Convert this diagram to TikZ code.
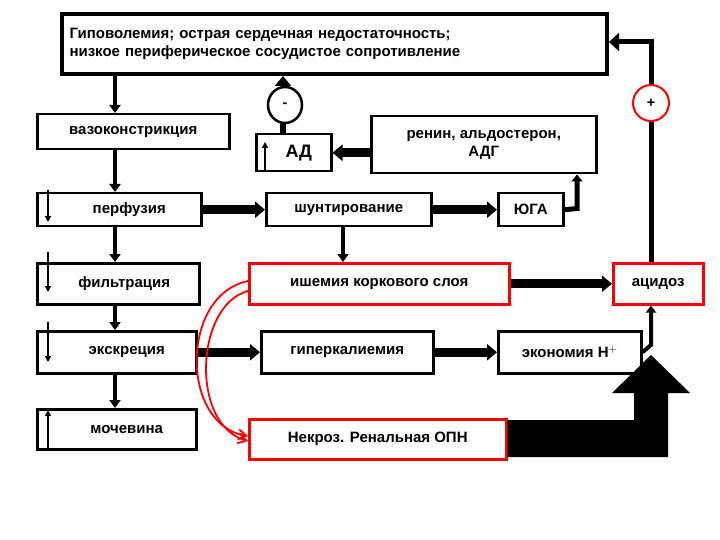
\documentclass[tikz,border=0pt]{standalone}
\usepackage{fontspec}
\setmainfont{Liberation Sans}
\usetikzlibrary{arrows.meta,shapes.geometric}
\begin{document}
\begin{tikzpicture}[x=1pt,y=-1pt,
 bx/.style={draw,line width=2.5pt,fill=white,inner sep=0pt,font=\bfseries\fontsize{15}{18}\selectfont},
 rbx/.style={bx,draw=red},
 va/.style={line width=4pt,-{Triangle[length=8pt,width=11pt]}},
 ha/.style={line width=9pt,-{Triangle[length=10pt,width=16pt]}},
 sa/.style={line width=1.8pt,-{Triangle[length=6pt,width=6pt]}},
 ra/.style={draw=red,line width=1.8pt,-{Straight Barb[length=8pt,width=10pt,open]}}]
\useasboundingbox (0,0) rectangle (720,540);
\node[bx,line width=4pt,minimum width=545pt,minimum height=60pt,align=left,text width=530pt,anchor=north west] (top) at (60,12)
 {Гиповолемия; острая сердечная недостаточность;\\низкое периферическое сосудистое сопротивление};
\node[bx,minimum width=192pt,minimum height=35pt,anchor=north west] (vaz) at (36,113) {вазоконстрикция};
\node[bx,minimum width=75pt,minimum height=37pt,anchor=north west] (ad) at (255,133) {\hspace{10pt}\fontsize{18}{20}\selectfont АД};
\node[bx,minimum width=225pt,minimum height=57pt,align=center,anchor=north west] (ren) at (370,115) {ренин, альдостерон,\\АДГ};
\node[draw,line width=2.5pt,fill=white,ellipse,minimum width=34pt,minimum height=36pt,inner sep=0pt,font=\bfseries\Large] (min) at (285,105) {-};
\node[draw=red,line width=2pt,fill=white,circle,minimum size=36pt,inner sep=0pt,font=\bfseries\Large] (pl) at (651,103) {+};
\node[bx,minimum width=164pt,minimum height=33pt,anchor=north west] (per) at (36,192) {\hspace{20pt}перфузия};
\node[bx,minimum width=165pt,minimum height=33pt,anchor=north west] (shu) at (265,192) {шунтирование};
\node[bx,minimum width=65pt,minimum height=33pt,anchor=north west] (yug) at (497,192) {ЮГА};
\node[bx,minimum width=162pt,minimum height=41pt,anchor=north west] (fil) at (36,262) {\hspace{12pt}фильтрация};
\node[rbx,minimum width=260pt,minimum height=41pt,anchor=north west] (isc) at (248,262) {ишемия коркового слоя};
\node[rbx,minimum width=90pt,minimum height=41pt,anchor=north west] (aci) at (612,262) {ацидоз};
\node[bx,minimum width=159pt,minimum height=42pt,anchor=north west] (exc) at (36,330) {\hspace{20pt}экскреция};
\node[bx,minimum width=172pt,minimum height=42pt,anchor=north west] (hyp) at (260,330) {гиперкалиемия};
\node[bx,minimum width=143pt,minimum height=42pt,anchor=north west] (eco) at (497,330) {экономия H$^{\mathbf{+}}$};
\node[bx,minimum width=159pt,minimum height=40pt,anchor=north west] (moc) at (36,408) {\hspace{20pt}мочевина};
\node[rbx,minimum width=257pt,minimum height=40pt,anchor=north west] (nec) at (248,418) {Некроз. Ренальная ОПН};
% vertical chain
\draw[va] (115,72) -- (vaz.north-|115,0);
\draw[va] (115,148) -- (per.north-|115,0);
\draw[va] (115,225) -- (fil.north-|115,0);
\draw[va] (115,303) -- (exc.north-|115,0);
\draw[va] (115,372) -- (moc.north-|115,0);
% inner small arrows
\draw[sa] (48,190) -- (48,222);
\draw[sa] (48,252) -- (48,292);
\draw[sa] (48,322) -- (48,362);
\draw[sa] (48,448) -- (48,410);
\draw[sa] (265,172) -- (265,142);
% AD -> minus -> top
\draw[line width=6pt] (ad.north-|283,0) -- (min.south-|283,0);
\draw[line width=6pt,-{Triangle[length=10pt,width=16pt]}] (min.north-|283,0) -- (top.south-|283,0);
% horizontal
\draw[ha] (ren.west|-ad) -- (ad.east);
\draw[ha] (per.east) -- (shu.west);
\draw[ha] (shu.east) -- (yug.west);
\draw[ha] (isc.east) -- (aci.west);
\draw[ha] (exc.east) -- (hyp.west);
\draw[ha] (hyp.east) -- (eco.west);
\draw[va] (343,225) -- (isc.north-|343,0);
\draw[line width=5pt,-{Triangle[length=7pt,width=11pt]}] (yug.east) -- (577,208.5) -- (ren.south-|577,0);
% economy -> acidosis
\draw[line width=4pt,-{Triangle[length=7pt,width=10pt]}] (eco.east) -- (651,345) -- (aci.south-|651,0);
% feedback
\draw[line width=5pt] (aci.north-|651,0) -- (pl.south);
\draw[line width=5pt,-{Triangle[length=10pt,width=18pt]}] (pl.north) -- (651,42) -- (top.east|-651,42);
% big arrow
\fill (nec.east|-0,420) -- (634,420) -- (634,393) -- (612,393) -- (651,355) -- (690,393) -- (668,393) -- (668,457) -- (nec.east|-0,457) -- cycle;
% red curves
\draw[ra] (isc.west|-0,281) .. controls (180,295) and (180,425) .. (nec.west|-0,436);
\draw[ra] (isc.west|-0,291) .. controls (195,305) and (190,425) .. (nec.west|-0,441);
\end{tikzpicture}
\end{document}
